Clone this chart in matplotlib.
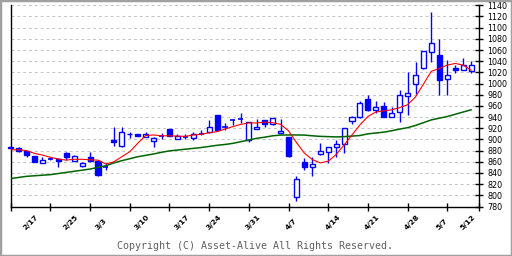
import matplotlib
matplotlib.use("Agg")
import matplotlib.pyplot as plt
from matplotlib.patches import Rectangle

# ---- data ----
opens  = [887, 885, 880, 871, 857, 865, 865, 876, 861, 853,
          868, 862, 850, 899, 888, 909, 910, 905, 898, 907,
          919, 901, 905, 903, 910, 913, 943, 923, 935, 936,
          899, 919, 935, 928, 911, 905, 797, 860, 850, 874,
          878, 886, 892, 933, 940, 973, 953, 959, 941, 949,
          978, 1000, 1027, 1057, 1051, 1008, 1027, 1025, 1023]
highs  = [888, 886, 880, 871, 869, 869, 866, 877, 872, 859,
          878, 864, 857, 923, 922, 914, 910, 914, 904, 911,
          919, 910, 910, 913, 916, 935, 943, 930, 936, 948,
          932, 937, 935, 938, 937, 905, 834, 867, 868, 894,
          887, 899, 921, 942, 968, 979, 969, 967, 958, 989,
          1020, 1039, 1058, 1128, 1079, 1043, 1034, 1045, 1040]
lows   = [883, 877, 869, 860, 857, 863, 850, 864, 861, 851,
          860, 834, 845, 889, 886, 902, 906, 904, 887, 900,
          907, 900, 900, 899, 908, 911, 917, 917, 925, 929,
          896, 918, 922, 925, 911, 868, 790, 845, 835, 873,
          857, 868, 875, 928, 938, 950, 947, 940, 940, 931,
          944, 982, 1026, 1039, 980, 980, 1019, 1025, 1019]
closes = [884, 879, 873, 860, 864, 865, 862, 869, 871, 857,
          862, 836, 850, 895, 914, 910, 907, 909, 903, 907,
          907, 906, 905, 910, 910, 923, 917, 923, 935, 936,
          931, 923, 928, 938, 915, 871, 829, 850, 856, 880,
          886, 892, 920, 940, 965, 952, 958, 940, 948, 980,
          983, 1016, 1058, 1073, 1007, 1016, 1025, 1033, 1034]
ma_short = [881.5, 881.5, 880, 875, 872, 868, 865, 863, 864.5, 864.5,
            863.5, 863, 856, 860, 869, 878, 893, 907, 908, 906.5,
            906.5, 906, 905.5, 908, 909, 912, 914, 918.5, 923, 927,
            929.5, 929.5, 931, 930, 927, 915.5, 894.5, 875.5, 864, 858,
            861, 873, 890, 908, 926, 941, 949, 951, 953, 957,
            962, 976, 999, 1022, 1027, 1033, 1036, 1033, 1024]
ma_long = [830, 832, 834, 835, 836, 837, 839, 841, 843, 845,
           847, 850, 853, 858, 862, 865.5, 869, 871.5, 874, 877,
           879.5, 881, 882.5, 884, 885.5, 887.5, 889.5, 891, 893, 896,
           899, 902, 904, 906.5, 907.8, 908, 908, 907.8, 906.5, 905.5,
           905, 904.5, 905, 906, 907, 910, 911.5, 913, 915.5, 918.5,
           921, 925, 930, 935, 938, 941, 945, 949, 953]
date_labels = ["2/17", "2/25", "3/3", "3/10", "3/17", "3/24", "3/31",
               "4/7", "4/14", "4/21", "4/28", "5/7", "5/12"]
date_index = [2, 7, 11, 16, 21, 25, 30, 35, 40, 45, 50, 54, 57]
y_ticks = list(range(780, 1141, 20))

BLUE = "#0000ff"

fig = plt.figure(figsize=(5.12, 2.56), dpi=100)
fig.patch.set_facecolor("white")
ax = fig.add_axes([10.7 / 512, 1 - 206.5 / 256, (479 - 10.7) / 512, (206.5 - 5.3) / 256])
ax.set_xlim(0, 59)
ax.set_ylim(780, 1140)

# grid
for yv in y_ticks[1:]:
    ax.axhline(yv, color="#c4c4c4", lw=0.7, dashes=(3, 3), zorder=1)

# candles
n = len(opens)
bw = 0.64
for i in range(n):
    o, h, l, c = opens[i], highs[i], lows[i], closes[i]
    ax.vlines(i, l, h, color=BLUE, lw=1.0, zorder=2, clip_on=False)
    lo, hi = min(o, c), max(o, c)
    if hi - lo < 0.8:
        ax.hlines(o, i - bw / 2, i + bw / 2, color=BLUE, lw=1.2, zorder=3, clip_on=False)
    else:
        filled = c < o
        ax.add_patch(Rectangle((i - bw / 2, lo), bw, hi - lo,
                               facecolor=BLUE if filled else "white",
                               edgecolor=BLUE, lw=1.0, zorder=3, clip_on=False))

x = list(range(n))
ax.plot(x, ma_long, color="#006400", lw=1.1, zorder=4)
ax.plot(x, ma_short, color="#ff0000", lw=0.8, zorder=5)

# spines / ticks
ax.spines["top"].set_visible(False)
for s in ("left", "right", "bottom"):
    ax.spines[s].set_linewidth(1.0)
    ax.spines[s].set_color("black")
ax.yaxis.tick_right()
ax.set_yticks(y_ticks)
ax.set_yticklabels([str(v) for v in y_ticks])
ax.tick_params(axis="y", direction="inout", length=6, width=1.0, labelsize=5.8, pad=3)
ax.set_xticks([0, 5, 10, 15, 20, 25, 30, 35, 40, 45, 50, 55, 59])
ax.set_xticklabels([])
ax.tick_params(axis="x", direction="inout", length=6, width=1.0)

for lab, xi in zip(date_labels, date_index):
    ax.text(xi, -0.12, lab, transform=ax.get_xaxis_transform(), rotation=45,
            rotation_mode="anchor", ha="left", va="bottom", fontsize=5.4,
            fontweight="bold", family="DejaVu Sans")

fig.text(0.498, 0.039, "Copyright (C) Asset-Alive All Rights Reserved.",
         ha="center", va="center", fontsize=7.2, family="DejaVu Sans Mono",
         color="#606060")

fig.patches.append(Rectangle((0, 0), 1, 1, transform=fig.transFigure, fill=False,
                             edgecolor="#a0a0a0", lw=2.5))

fig.savefig("out.png", dpi=100)
